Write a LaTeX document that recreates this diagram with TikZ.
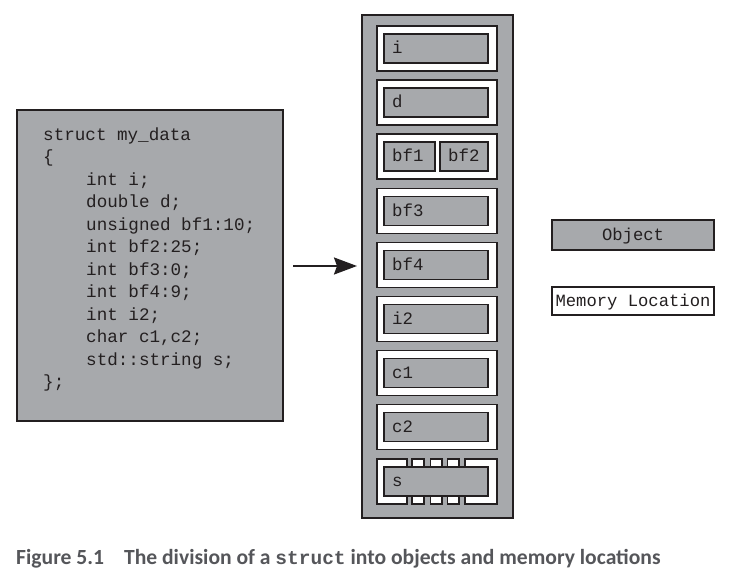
\documentclass[tikz,border=0pt]{standalone}
\usepackage{fontspec}
\setmonofont{Liberation Mono}
\newfontfamily\capfont{Carlito}
\usetikzlibrary{arrows.meta}
\definecolor{figgray}{RGB}{167,169,172}
\definecolor{ink}{RGB}{35,31,32}
\definecolor{capgray}{RGB}{85,86,90}
\tikzset{
  codebox/.style={draw=ink, line width=1.2pt, fill=figgray, inner sep=0pt, outer sep=0pt, anchor=north west},
  memcol/.style={draw=ink, line width=2pt, fill=figgray, inner sep=0pt, outer sep=0pt, anchor=north west},
  memloc/.style={draw=ink, line width=1.2pt, fill=white, inner sep=0pt, outer sep=0pt, anchor=north west, minimum height=45pt},
  objbox/.style={draw=ink, line width=1.2pt, fill=figgray, inner sep=0pt, outer sep=0pt, anchor=north west, minimum height=29pt},
  legobj/.style={draw=ink, line width=2pt, fill=figgray, inner sep=0pt, outer sep=0pt, anchor=north west, minimum width=162pt},
  legmem/.style={draw=ink, line width=2pt, fill=white, inner sep=0pt, outer sep=0pt, anchor=north west, minimum width=162pt},
  codetext/.style={font=\ttfamily\fontsize{17.6}{20}\selectfont, text=ink, inner sep=0pt, anchor=base west},
  lbl/.style={font=\ttfamily\fontsize{17.4}{20}\selectfont, text=ink, inner sep=0pt, anchor=base west},
  legtext/.style={font=\ttfamily\fontsize{17.2}{20}\selectfont, text=ink, inner sep=0pt, anchor=base},
}
\begin{document}
\begin{tikzpicture}[x=1pt,y=-1pt]
\useasboundingbox (0,0) rectangle (736,583);
% code box
\node[codebox, minimum width=266pt, minimum height=311pt] (code) at (17,110) {};
\node[codetext] (l0) at (43,140) {struct my\_data};
\node[codetext] (l1) at (43,162.5) {\{};
\node[codetext] (l2) at (86,185) {int i;};
\node[codetext] (l3) at (86,207.5) {double d;};
\node[codetext] (l4) at (86,230) {unsigned bf1:10;};
\node[codetext] (l5) at (86,252.5) {int bf2:25;};
\node[codetext] (l6) at (86,275) {int bf3:0;};
\node[codetext] (l7) at (86,297.5) {int bf4:9;};
\node[codetext] (l8) at (86,320) {int i2;};
\node[codetext] (l9) at (86,342.5) {char c1,c2;};
\node[codetext] (l10) at (86,365) {std::string s;};
\node[codetext] (l11) at (43,387.5) {\};};
% memory column
\node[memcol, minimum width=151pt, minimum height=503pt] (mem) at (362,15) {};
% rows
\node[memloc, minimum width=120pt] (mi) at (377,26) {};
\node[objbox, minimum width=104pt] (oi) at (384,34) {};
\node[lbl] (ti) at (392,53.5) {i};
\node[memloc, minimum width=120pt] (md) at (377,80) {};
\node[objbox, minimum width=104pt] (od) at (384,88) {};
\node[lbl] (td) at (392,107.5) {d};
\node[memloc, minimum width=120pt] (mbf) at (377,134) {};
\node[objbox, minimum width=51pt] (obf1) at (384,142) {};
\node[objbox, minimum width=48pt] (obf2) at (440,142) {};
\node[lbl] (tbf1) at (392,161.5) {bf1};
\node[lbl] (tbf2) at (448,161.5) {bf2};
\node[memloc, minimum width=120pt] (mbf3) at (377,188.5) {};
\node[objbox, minimum width=104pt] (obf3) at (384,196.5) {};
\node[lbl] (tbf3) at (392,216) {bf3};
\node[memloc, minimum width=120pt] (mbf4) at (377,242.5) {};
\node[objbox, minimum width=104pt] (obf4) at (384,250.5) {};
\node[lbl] (tbf4) at (392,270) {bf4};
\node[memloc, minimum width=120pt] (mi2) at (377,296.5) {};
\node[objbox, minimum width=104pt] (oi2) at (384,304.5) {};
\node[lbl] (ti2) at (392,324) {i2};
\node[memloc, minimum width=120pt] (mc1) at (377,350.5) {};
\node[objbox, minimum width=104pt] (oc1) at (384,358.5) {};
\node[lbl] (tc1) at (392,378) {c1};
\node[memloc, minimum width=120pt] (mc2) at (377,404.5) {};
\node[objbox, minimum width=104pt] (oc2) at (384,412.5) {};
\node[lbl] (tc2) at (392,432) {c2};
% string row: several memory locations
\node[memloc, minimum width=30pt] (ms1) at (377,459) {};
\node[memloc, minimum width=12pt] (ms2) at (412,459) {};
\node[memloc, minimum width=11.5pt] (ms3) at (430.5,459) {};
\node[memloc, minimum width=11.5pt] (ms4) at (447.5,459) {};
\node[memloc, minimum width=32pt] (ms5) at (465,459) {};
\node[objbox, minimum width=104pt] (os) at (384,467) {};
\node[lbl] (ts) at (392,486.5) {s};
% arrow
\coordinate (arrS) at (293,266);
\draw[ink, line width=2pt, -{Stealth[length=23pt,width=17pt,inset=3pt]}, shorten >=5pt] (arrS) -- (arrS -| mem.west);
% legend
\node[legobj, minimum height=30pt] (lego) at (552,220) {};
\node[legtext] (legot) at (lego.center) [yshift=-5pt] {Object};
\node[legmem, minimum height=28pt] (legm) at (552,287) {};
\node[legtext] (legmt) at (legm.center) [yshift=-5pt] {Memory Location};
% caption
\node[font=\capfont\bfseries\fontsize{21.6}{24}\selectfont, text=capgray, inner sep=0pt, anchor=base west] (cap) at (16,564)
  {Figure 5.1\hspace{20pt}The division of a {\ttfamily\fontsize{19.5}{22}\selectfont struct} into objects and memory locations};
\end{tikzpicture}
\end{document}
